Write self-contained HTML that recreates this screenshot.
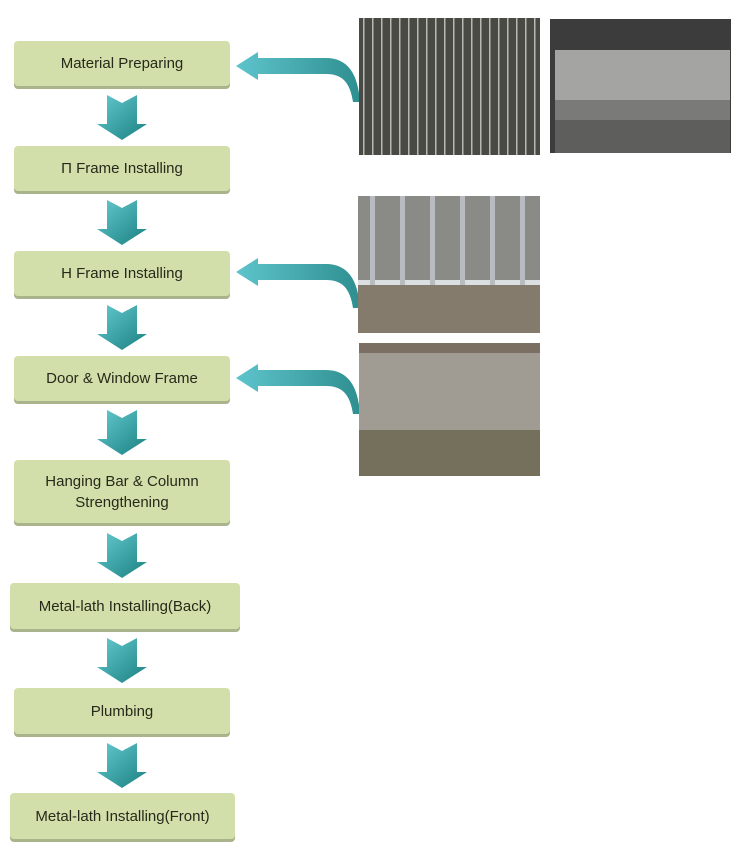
<!DOCTYPE html>
<html><head><meta charset="utf-8"><style>
body{margin:0;width:747px;height:860px;background:#fff;position:relative;overflow:hidden;font-family:"Liberation Sans",sans-serif}
.b{position:absolute;background:#d2dfaa;border-radius:4px;box-shadow:0 3px 0 #a9b38c;display:flex;align-items:center;justify-content:center;text-align:center;color:#262a1a;font-size:15px;line-height:21px}
svg{position:absolute;left:0;top:0}
</style></head><body>
<svg width="747" height="860">
<defs>
<linearGradient id="g" x1="0" y1="0" x2="1" y2="1"><stop offset="0" stop-color="#66cbd0"/><stop offset="1" stop-color="#1a7f80"/></linearGradient>
<linearGradient id="c" x1="0" y1="0" x2="1" y2="0"><stop offset="0" stop-color="#5ec4cc"/><stop offset="1" stop-color="#2e8f90"/></linearGradient>
<g id="da"><path d="M0,0 L15,8 L30,0 L30,29 L40,29 L15,45 L-10,29 L0,29 Z" fill="url(#g)"/></g>
<g id="ca"><path d="M0,0 L22,-14 L22,-8 L90,-8 C112,-8 122,8 124,36 L117,36 C114,16 106,8 90,8 L22,8 L22,14 Z" fill="url(#c)"/></g>
<pattern id="p1" width="9" height="10" patternUnits="userSpaceOnUse"><rect width="9" height="10" fill="#4a4a45"/><rect x="3" width="1.5" height="10" fill="#b8b8b6"/></pattern>
<pattern id="p3" width="30" height="140" patternUnits="userSpaceOnUse"><rect width="30" height="140" fill="#8a8a86"/><rect width="30" height="55" fill="#dcdfe2"/><rect x="10" width="5" height="140" fill="#b8bcc0"/></pattern>
</defs>
<use href="#da" x="107" y="95"/>
<use href="#da" x="107" y="200"/>
<use href="#da" x="107" y="305"/>
<use href="#da" x="107" y="410"/>
<use href="#da" x="107" y="533"/>
<use href="#da" x="107" y="638"/>
<use href="#da" x="107" y="743"/>
<use href="#ca" x="236" y="66"/>
<use href="#ca" x="236" y="272"/>
<use href="#ca" x="236" y="378"/>
<rect x="359" y="18" width="181" height="137" fill="url(#p1)"/>
<rect x="550" y="19" width="181" height="134" fill="#3c3c3c"/>
<rect x="555" y="50" width="175" height="50" fill="#a4a4a2"/>
<rect x="555" y="100" width="175" height="20" fill="#7a7a78"/>
<rect x="555" y="120" width="175" height="33" fill="#5e5e5c"/>
<rect x="358" y="196" width="182" height="137" fill="url(#p3)"/>
<rect x="358" y="285" width="182" height="48" fill="#857b6c"/>
<rect x="359" y="343" width="181" height="133" fill="#a09c94"/>
<rect x="359" y="343" width="181" height="10" fill="#7a6f62"/>
<rect x="359" y="430" width="181" height="46" fill="#75705c"/>
</svg>
<div class="b" style="left:14px;top:41px;width:216px;height:45px">Material Preparing</div>
<div class="b" style="left:14px;top:146px;width:216px;height:45px">Π Frame Installing</div>
<div class="b" style="left:14px;top:251px;width:216px;height:45px">H Frame Installing</div>
<div class="b" style="left:14px;top:356px;width:216px;height:45px">Door &amp; Window Frame</div>
<div class="b" style="left:14px;top:460px;width:216px;height:63px">Hanging Bar &amp; Column<br>Strengthening</div>
<div class="b" style="left:10px;top:583px;width:230px;height:46px">Metal-lath Installing(Back)</div>
<div class="b" style="left:14px;top:688px;width:216px;height:46px">Plumbing</div>
<div class="b" style="left:10px;top:793px;width:225px;height:46px">Metal-lath Installing(Front)</div>
</body></html>
